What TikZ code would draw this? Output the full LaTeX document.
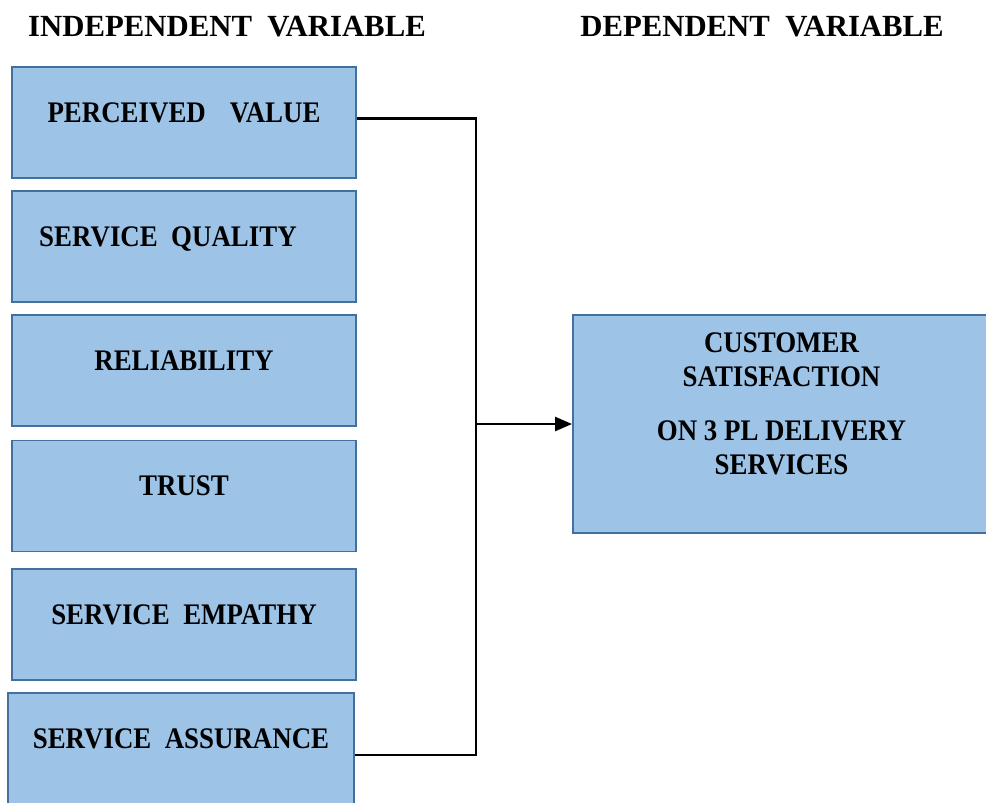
\documentclass[tikz,border=0pt]{standalone}
\usepackage{fontspec}
\setmainfont{Liberation Serif}
\newfontfamily\boxfont{Liberation Serif}[FakeStretch=0.9]
\usepackage{xcolor}
\usepackage{tikz}
\usetikzlibrary{positioning,arrows.meta}
\definecolor{boxblue}{RGB}{157,195,230}
\definecolor{edgeblue}{RGB}{65,113,156}

\begin{document}
\begin{tikzpicture}[
	varbox/.style={
		draw=edgeblue, fill=boxblue, line width=1.1pt,
		minimum width=6.88cm, minimum height=2.22cm, inner sep=0pt,
		text height=1.1cm, text depth=1.12cm,
		font=\boxfont\bfseries\fontsize{17pt}{19pt}\selectfont
	},
	heading/.style={font=\bfseries\fontsize{17.5pt}{19pt}\selectfont, inner sep=0pt},
	wire/.style={line width=1.4pt, black}
	]
	\useasboundingbox (0,0) rectangle (19.72,-16.04);
	
	% headings
	\node[heading] (indep) at (4.54,-0.53)  {INDEPENDENT\ \ VARIABLE};
	\node[heading] (dep)   at (15.24,-0.53) {DEPENDENT\ \ VARIABLE};
	
	% independent variables
	\node[varbox] (pv) at (3.68,-2.45)  {PERCEIVED\hspace{0.8em}VALUE};
	\node[varbox] (sq) at (3.68,-4.93)  {\hspace*{-0.64cm}SERVICE\ \ QUALITY};
	\node[varbox] (rl) at (3.68,-7.41)  {RELIABILITY};
	\node[varbox] (tr) at (3.68,-9.92)  {TRUST};
	\node[varbox] (se) at (3.68,-12.49) {SERVICE\ \ EMPATHY};
	\node[varbox, minimum width=6.92cm] (sa) at (3.62,-14.97) {SERVICE\ \ ASSURANCE};
	
	% dependent variable, runs past the right edge
	\node[varbox, minimum width=8.34cm, minimum height=4.36cm,
	      text height=3.18cm, text depth=1.18cm, align=center]
	      (cs) at (15.63,-8.48)
	      {CUSTOMER\\SATISFACTION\\[0.42cm]ON 3 PL DELIVERY\\SERVICES};
	
	% connector
	\coordinate (bus) at (9.52,-8.48);
	\draw[wire] ([yshift=0.08cm]pv.east) -| (bus) |- ([yshift=-0.13cm]sa.east);
	\draw[wire, -{Triangle[length=0.34cm, width=0.28cm]}] (bus) -- (cs.west);
\end{tikzpicture}
\end{document}
